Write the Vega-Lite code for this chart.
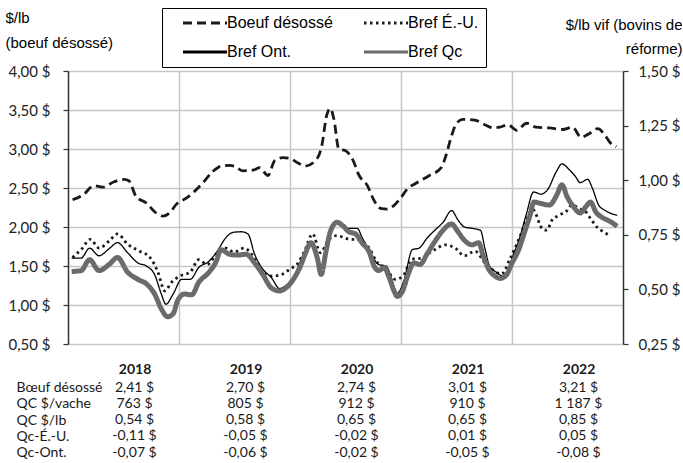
{
  "$schema": "https://vega.github.io/schema/vega-lite/v6.json",
  "background": "white",
  "padding": {"left": 5, "top": 7, "right": 0, "bottom": 0},
  "autosize": {"type": "pad"},
  "bounds": "flush",
  "spacing": 35.5,
  "config": {"view": {"stroke": null}},
  "datasets": {
    "series": [
      {"d":"2018-01-16","s":"Boeuf désossé","v":2.35},{"d":"2018-02-19","s":"Boeuf désossé","v":2.41},{"d":"2018-03-28","s":"Boeuf désossé","v":2.53},{"d":"2018-04-25","s":"Boeuf désossé","v":2.51},{"d":"2018-06-02","s":"Boeuf désossé","v":2.58},{"d":"2018-07-05","s":"Boeuf désossé","v":2.61},{"d":"2018-07-21","s":"Boeuf désossé","v":2.59},{"d":"2018-08-13","s":"Boeuf désossé","v":2.39},{"d":"2018-09-15","s":"Boeuf désossé","v":2.31},{"d":"2018-10-18","s":"Boeuf désossé","v":2.18},{"d":"2018-11-09","s":"Boeuf désossé","v":2.14},{"d":"2018-12-01","s":"Boeuf désossé","v":2.18},{"d":"2018-12-23","s":"Boeuf désossé","v":2.29},
      {"d":"2019-01-25","s":"Boeuf désossé","v":2.37},{"d":"2019-02-22","s":"Boeuf désossé","v":2.46},{"d":"2019-03-19","s":"Boeuf désossé","v":2.56},{"d":"2019-04-22","s":"Boeuf désossé","v":2.71},{"d":"2019-05-19","s":"Boeuf désossé","v":2.78},{"d":"2019-06-16","s":"Boeuf désossé","v":2.79},{"d":"2019-07-02","s":"Boeuf désossé","v":2.78},{"d":"2019-07-30","s":"Boeuf désossé","v":2.72},{"d":"2019-09-02","s":"Boeuf désossé","v":2.73},{"d":"2019-09-24","s":"Boeuf désossé","v":2.76},{"d":"2019-10-21","s":"Boeuf désossé","v":2.66},{"d":"2019-11-12","s":"Boeuf désossé","v":2.85},{"d":"2019-12-09","s":"Boeuf désossé","v":2.89},
      {"d":"2020-01-01","s":"Boeuf désossé","v":2.88},{"d":"2020-01-28","s":"Boeuf désossé","v":2.82},{"d":"2020-02-20","s":"Boeuf désossé","v":2.78},{"d":"2020-03-25","s":"Boeuf désossé","v":2.85},{"d":"2020-04-15","s":"Boeuf désossé","v":3.04},{"d":"2020-05-01","s":"Boeuf désossé","v":3.43},{"d":"2020-05-13","s":"Boeuf désossé","v":3.52},{"d":"2020-05-25","s":"Boeuf désossé","v":3.38},{"d":"2020-06-10","s":"Boeuf désossé","v":3.0},{"d":"2020-07-01","s":"Boeuf désossé","v":2.98},{"d":"2020-07-25","s":"Boeuf désossé","v":2.87},{"d":"2020-08-16","s":"Boeuf désossé","v":2.66},{"d":"2020-09-12","s":"Boeuf désossé","v":2.53},{"d":"2020-10-04","s":"Boeuf désossé","v":2.34},{"d":"2020-10-25","s":"Boeuf désossé","v":2.24},{"d":"2020-11-16","s":"Boeuf désossé","v":2.23},{"d":"2020-12-07","s":"Boeuf désossé","v":2.27},
      {"d":"2021-01-01","s":"Boeuf désossé","v":2.38},{"d":"2021-01-22","s":"Boeuf désossé","v":2.49},{"d":"2021-02-19","s":"Boeuf désossé","v":2.56},{"d":"2021-03-04","s":"Boeuf désossé","v":2.59},{"d":"2021-04-04","s":"Boeuf désossé","v":2.66},{"d":"2021-05-13","s":"Boeuf désossé","v":2.76},{"d":"2021-05-28","s":"Boeuf désossé","v":2.91},{"d":"2021-06-16","s":"Boeuf désossé","v":3.17},{"d":"2021-07-01","s":"Boeuf désossé","v":3.32},{"d":"2021-07-22","s":"Boeuf désossé","v":3.38},{"d":"2021-09-01","s":"Boeuf désossé","v":3.37},{"d":"2021-10-04","s":"Boeuf désossé","v":3.31},{"d":"2021-11-01","s":"Boeuf désossé","v":3.27},{"d":"2021-11-22","s":"Boeuf désossé","v":3.28},{"d":"2021-12-19","s":"Boeuf désossé","v":3.31},
      {"d":"2022-01-16","s":"Boeuf désossé","v":3.24},{"d":"2022-02-18","s":"Boeuf désossé","v":3.33},{"d":"2022-03-21","s":"Boeuf désossé","v":3.28},{"d":"2022-05-04","s":"Boeuf désossé","v":3.27},{"d":"2022-06-16","s":"Boeuf désossé","v":3.25},{"d":"2022-07-19","s":"Boeuf désossé","v":3.28},{"d":"2022-08-16","s":"Boeuf désossé","v":3.15},{"d":"2022-09-13","s":"Boeuf désossé","v":3.2},{"d":"2022-10-10","s":"Boeuf désossé","v":3.26},{"d":"2022-11-02","s":"Boeuf désossé","v":3.18},{"d":"2022-11-18","s":"Boeuf désossé","v":3.09},{"d":"2022-12-10","s":"Boeuf désossé","v":3.03},

      {"d":"2018-01-16","s":"Bref É.-U.","v":0.646},{"d":"2018-02-13","s":"Bref É.-U.","v":0.682},{"d":"2018-03-16","s":"Bref É.-U.","v":0.729},{"d":"2018-04-13","s":"Bref É.-U.","v":0.689},{"d":"2018-05-16","s":"Bref É.-U.","v":0.721},{"d":"2018-06-13","s":"Bref É.-U.","v":0.754},{"d":"2018-07-16","s":"Bref É.-U.","v":0.707},{"d":"2018-08-25","s":"Bref É.-U.","v":0.675},{"d":"2018-09-28","s":"Bref É.-U.","v":0.646},{"d":"2018-10-22","s":"Bref É.-U.","v":0.586},{"d":"2018-11-16","s":"Bref É.-U.","v":0.493},{"d":"2018-12-07","s":"Bref É.-U.","v":0.532},
      {"d":"2019-01-04","s":"Bref É.-U.","v":0.561},{"d":"2019-02-07","s":"Bref É.-U.","v":0.579},{"d":"2019-03-07","s":"Bref É.-U.","v":0.636},{"d":"2019-04-04","s":"Bref É.-U.","v":0.614},{"d":"2019-05-04","s":"Bref É.-U.","v":0.661},{"d":"2019-06-04","s":"Bref É.-U.","v":0.689},{"d":"2019-07-01","s":"Bref É.-U.","v":0.671},{"d":"2019-08-04","s":"Bref É.-U.","v":0.689},{"d":"2019-09-01","s":"Bref É.-U.","v":0.654},{"d":"2019-10-01","s":"Bref É.-U.","v":0.586},{"d":"2019-11-01","s":"Bref É.-U.","v":0.561},{"d":"2019-12-04","s":"Bref É.-U.","v":0.568},
      {"d":"2020-01-01","s":"Bref É.-U.","v":0.593},{"d":"2020-01-28","s":"Bref É.-U.","v":0.621},{"d":"2020-02-18","s":"Bref É.-U.","v":0.675},{"d":"2020-03-16","s":"Bref É.-U.","v":0.754},{"d":"2020-04-10","s":"Bref É.-U.","v":0.668},{"d":"2020-05-07","s":"Bref É.-U.","v":0.725},{"d":"2020-05-22","s":"Bref É.-U.","v":0.743},{"d":"2020-06-04","s":"Bref É.-U.","v":0.746},{"d":"2020-07-07","s":"Bref É.-U.","v":0.732},{"d":"2020-08-16","s":"Bref É.-U.","v":0.725},{"d":"2020-09-19","s":"Bref É.-U.","v":0.686},{"d":"2020-10-10","s":"Bref É.-U.","v":0.632},{"d":"2020-11-13","s":"Bref É.-U.","v":0.593},{"d":"2020-12-13","s":"Bref É.-U.","v":0.546},
      {"d":"2021-01-07","s":"Bref É.-U.","v":0.561},{"d":"2021-02-07","s":"Bref É.-U.","v":0.639},{"d":"2021-03-13","s":"Bref É.-U.","v":0.643},{"d":"2021-03-28","s":"Bref É.-U.","v":0.66},{"d":"2021-04-22","s":"Bref É.-U.","v":0.682},{"d":"2021-05-25","s":"Bref É.-U.","v":0.704},{"d":"2021-06-28","s":"Bref É.-U.","v":0.689},{"d":"2021-07-28","s":"Bref É.-U.","v":0.654},{"d":"2021-09-01","s":"Bref É.-U.","v":0.675},{"d":"2021-10-04","s":"Bref É.-U.","v":0.621},{"d":"2021-11-01","s":"Bref É.-U.","v":0.586},{"d":"2021-11-28","s":"Bref É.-U.","v":0.571},{"d":"2021-12-25","s":"Bref É.-U.","v":0.639},
      {"d":"2022-01-28","s":"Bref É.-U.","v":0.746},{"d":"2022-02-19","s":"Bref É.-U.","v":0.825},{"d":"2022-03-10","s":"Bref É.-U.","v":0.866},{"d":"2022-04-10","s":"Bref É.-U.","v":0.779},{"d":"2022-04-25","s":"Bref É.-U.","v":0.771},{"d":"2022-05-13","s":"Bref É.-U.","v":0.818},{"d":"2022-06-04","s":"Bref É.-U.","v":0.839},{"d":"2022-07-01","s":"Bref É.-U.","v":0.861},{"d":"2022-07-16","s":"Bref É.-U.","v":0.886},{"d":"2022-08-13","s":"Bref É.-U.","v":0.868},{"d":"2022-09-01","s":"Bref É.-U.","v":0.854},{"d":"2022-09-16","s":"Bref É.-U.","v":0.825},{"d":"2022-10-07","s":"Bref É.-U.","v":0.786},{"d":"2022-10-28","s":"Bref É.-U.","v":0.764},{"d":"2022-11-19","s":"Bref É.-U.","v":0.746},

      {"d":"2018-01-13","s":"Bref Ont.","v":0.643},{"d":"2018-02-13","s":"Bref Ont.","v":0.643},{"d":"2018-03-13","s":"Bref Ont.","v":0.689},{"d":"2018-04-13","s":"Bref Ont.","v":0.654},{"d":"2018-05-16","s":"Bref Ont.","v":0.686},{"d":"2018-06-13","s":"Bref Ont.","v":0.714},{"d":"2018-07-16","s":"Bref Ont.","v":0.668},{"d":"2018-08-19","s":"Bref Ont.","v":0.621},{"d":"2018-09-16","s":"Bref Ont.","v":0.607},{"d":"2018-10-13","s":"Bref Ont.","v":0.568},{"d":"2018-11-04","s":"Bref Ont.","v":0.479},{"d":"2018-11-19","s":"Bref Ont.","v":0.432},{"d":"2018-12-13","s":"Bref Ont.","v":0.479},
      {"d":"2019-01-10","s":"Bref Ont.","v":0.546},{"d":"2019-02-07","s":"Bref Ont.","v":0.546},{"d":"2019-03-07","s":"Bref Ont.","v":0.6},{"d":"2019-04-10","s":"Bref Ont.","v":0.629},{"d":"2019-05-07","s":"Bref Ont.","v":0.675},{"d":"2019-06-04","s":"Bref Ont.","v":0.736},{"d":"2019-06-28","s":"Bref Ont.","v":0.761},{"d":"2019-07-25","s":"Bref Ont.","v":0.764},{"d":"2019-08-16","s":"Bref Ont.","v":0.754},{"d":"2019-09-07","s":"Bref Ont.","v":0.661},{"d":"2019-10-04","s":"Bref Ont.","v":0.593},{"d":"2019-11-01","s":"Bref Ont.","v":0.554},{"d":"2019-11-28","s":"Bref Ont.","v":0.504},{"d":"2019-12-19","s":"Bref Ont.","v":0.518},
      {"d":"2020-01-16","s":"Bref Ont.","v":0.564},{"d":"2020-02-05","s":"Bref Ont.","v":0.629},{"d":"2020-02-22","s":"Bref Ont.","v":0.679},{"d":"2020-03-10","s":"Bref Ont.","v":0.714},{"d":"2020-04-01","s":"Bref Ont.","v":0.643},{"d":"2020-04-13","s":"Bref Ont.","v":0.607},{"d":"2020-04-28","s":"Bref Ont.","v":0.679},{"d":"2020-05-13","s":"Bref Ont.","v":0.771},{"d":"2020-06-04","s":"Bref Ont.","v":0.807},{"d":"2020-07-13","s":"Bref Ont.","v":0.779},{"d":"2020-08-10","s":"Bref Ont.","v":0.779},{"d":"2020-08-25","s":"Bref Ont.","v":0.739},{"d":"2020-09-22","s":"Bref Ont.","v":0.668},{"d":"2020-10-19","s":"Bref Ont.","v":0.614},{"d":"2020-11-13","s":"Bref Ont.","v":0.607},{"d":"2020-11-28","s":"Bref Ont.","v":0.561},{"d":"2020-12-19","s":"Bref Ont.","v":0.482},
      {"d":"2021-01-10","s":"Bref Ont.","v":0.539},{"d":"2021-02-07","s":"Bref Ont.","v":0.682},{"d":"2021-03-01","s":"Bref Ont.","v":0.689},{"d":"2021-03-28","s":"Bref Ont.","v":0.736},{"d":"2021-04-28","s":"Bref Ont.","v":0.779},{"d":"2021-05-19","s":"Bref Ont.","v":0.807},{"d":"2021-06-16","s":"Bref Ont.","v":0.861},{"d":"2021-07-07","s":"Bref Ont.","v":0.818},{"d":"2021-07-28","s":"Bref Ont.","v":0.786},{"d":"2021-08-25","s":"Bref Ont.","v":0.779},{"d":"2021-09-19","s":"Bref Ont.","v":0.771},{"d":"2021-10-04","s":"Bref Ont.","v":0.686},{"d":"2021-10-19","s":"Bref Ont.","v":0.607},{"d":"2021-11-10","s":"Bref Ont.","v":0.579},{"d":"2021-12-04","s":"Bref Ont.","v":0.56},{"d":"2021-12-19","s":"Bref Ont.","v":0.593},
      {"d":"2022-01-04","s":"Bref Ont.","v":0.654},{"d":"2022-01-25","s":"Bref Ont.","v":0.732},{"d":"2022-02-16","s":"Bref Ont.","v":0.839},{"d":"2022-03-13","s":"Bref Ont.","v":0.946},{"d":"2022-04-07","s":"Bref Ont.","v":0.936},{"d":"2022-04-28","s":"Bref Ont.","v":0.957},{"d":"2022-05-28","s":"Bref Ont.","v":1.043},{"d":"2022-06-14","s":"Bref Ont.","v":1.075},{"d":"2022-07-07","s":"Bref Ont.","v":1.05},{"d":"2022-07-28","s":"Bref Ont.","v":1.018},{"d":"2022-08-13","s":"Bref Ont.","v":0.989},{"d":"2022-09-07","s":"Bref Ont.","v":1.004},{"d":"2022-09-22","s":"Bref Ont.","v":0.964},{"d":"2022-10-13","s":"Bref Ont.","v":0.886},{"d":"2022-11-04","s":"Bref Ont.","v":0.861},{"d":"2022-12-13","s":"Bref Ont.","v":0.839},

      {"d":"2018-01-13","s":"Bref Qc","v":0.582},{"d":"2018-02-13","s":"Bref Qc","v":0.586},{"d":"2018-03-13","s":"Bref Qc","v":0.636},{"d":"2018-04-13","s":"Bref Qc","v":0.586},{"d":"2018-05-16","s":"Bref Qc","v":0.614},{"d":"2018-06-13","s":"Bref Qc","v":0.646},{"d":"2018-07-16","s":"Bref Qc","v":0.579},{"d":"2018-08-19","s":"Bref Qc","v":0.546},{"d":"2018-09-16","s":"Bref Qc","v":0.525},{"d":"2018-10-13","s":"Bref Qc","v":0.479},{"d":"2018-11-04","s":"Bref Qc","v":0.411},{"d":"2018-11-25","s":"Bref Qc","v":0.375},{"d":"2018-12-13","s":"Bref Qc","v":0.389},{"d":"2018-12-28","s":"Bref Qc","v":0.45},
      {"d":"2019-01-19","s":"Bref Qc","v":0.479},{"d":"2019-02-12","s":"Bref Qc","v":0.475},{"d":"2019-03-07","s":"Bref Qc","v":0.532},{"d":"2019-04-10","s":"Bref Qc","v":0.579},{"d":"2019-05-04","s":"Bref Qc","v":0.629},{"d":"2019-05-19","s":"Bref Qc","v":0.682},{"d":"2019-06-16","s":"Bref Qc","v":0.661},{"d":"2019-07-13","s":"Bref Qc","v":0.657},{"d":"2019-08-10","s":"Bref Qc","v":0.661},{"d":"2019-09-07","s":"Bref Qc","v":0.621},{"d":"2019-10-04","s":"Bref Qc","v":0.568},{"d":"2019-11-01","s":"Bref Qc","v":0.507},{"d":"2019-11-28","s":"Bref Qc","v":0.493},{"d":"2019-12-19","s":"Bref Qc","v":0.507},
      {"d":"2020-01-16","s":"Bref Qc","v":0.554},{"d":"2020-02-05","s":"Bref Qc","v":0.607},{"d":"2020-02-22","s":"Bref Qc","v":0.668},{"d":"2020-03-10","s":"Bref Qc","v":0.714},{"d":"2020-04-01","s":"Bref Qc","v":0.639},{"d":"2020-04-13","s":"Bref Qc","v":0.568},{"d":"2020-04-28","s":"Bref Qc","v":0.668},{"d":"2020-05-13","s":"Bref Qc","v":0.764},{"d":"2020-06-04","s":"Bref Qc","v":0.807},{"d":"2020-06-22","s":"Bref Qc","v":0.793},{"d":"2020-07-13","s":"Bref Qc","v":0.764},{"d":"2020-08-04","s":"Bref Qc","v":0.754},{"d":"2020-08-25","s":"Bref Qc","v":0.714},{"d":"2020-09-19","s":"Bref Qc","v":0.668},{"d":"2020-10-04","s":"Bref Qc","v":0.607},{"d":"2020-10-19","s":"Bref Qc","v":0.586},{"d":"2020-11-07","s":"Bref Qc","v":0.6},{"d":"2020-11-22","s":"Bref Qc","v":0.557},{"d":"2020-12-10","s":"Bref Qc","v":0.489},{"d":"2020-12-19","s":"Bref Qc","v":0.468},
      {"d":"2021-01-07","s":"Bref Qc","v":0.496},{"d":"2021-01-22","s":"Bref Qc","v":0.561},{"d":"2021-02-13","s":"Bref Qc","v":0.621},{"d":"2021-03-04","s":"Bref Qc","v":0.614},{"d":"2021-03-28","s":"Bref Qc","v":0.664},{"d":"2021-04-28","s":"Bref Qc","v":0.732},{"d":"2021-05-19","s":"Bref Qc","v":0.771},{"d":"2021-06-16","s":"Bref Qc","v":0.8},{"d":"2021-07-07","s":"Bref Qc","v":0.764},{"d":"2021-07-28","s":"Bref Qc","v":0.725},{"d":"2021-08-22","s":"Bref Qc","v":0.704},{"d":"2021-09-13","s":"Bref Qc","v":0.714},{"d":"2021-09-28","s":"Bref Qc","v":0.654},{"d":"2021-10-16","s":"Bref Qc","v":0.593},{"d":"2021-11-07","s":"Bref Qc","v":0.56},{"d":"2021-11-22","s":"Bref Qc","v":0.55},{"d":"2021-12-13","s":"Bref Qc","v":0.565},
      {"d":"2022-01-01","s":"Bref Qc","v":0.621},{"d":"2022-01-22","s":"Bref Qc","v":0.679},{"d":"2022-02-10","s":"Bref Qc","v":0.757},{"d":"2022-03-01","s":"Bref Qc","v":0.839},{"d":"2022-03-14","s":"Bref Qc","v":0.9},{"d":"2022-04-07","s":"Bref Qc","v":0.893},{"d":"2022-05-04","s":"Bref Qc","v":0.886},{"d":"2022-05-28","s":"Bref Qc","v":0.932},{"d":"2022-06-14","s":"Bref Qc","v":0.979},{"d":"2022-07-01","s":"Bref Qc","v":0.925},{"d":"2022-07-22","s":"Bref Qc","v":0.879},{"d":"2022-08-13","s":"Bref Qc","v":0.85},{"d":"2022-09-01","s":"Bref Qc","v":0.879},{"d":"2022-09-16","s":"Bref Qc","v":0.9},{"d":"2022-10-04","s":"Bref Qc","v":0.854},{"d":"2022-10-25","s":"Bref Qc","v":0.829},{"d":"2022-11-16","s":"Bref Qc","v":0.814},{"d":"2022-12-13","s":"Bref Qc","v":0.789}
    ],
    "tableau": [
      {"annee":"2018","ligne":"Bœuf désossé","valeur":"2,41 $"},{"annee":"2019","ligne":"Bœuf désossé","valeur":"2,70 $"},{"annee":"2020","ligne":"Bœuf désossé","valeur":"2,74 $"},{"annee":"2021","ligne":"Bœuf désossé","valeur":"3,01 $"},{"annee":"2022","ligne":"Bœuf désossé","valeur":"3,21 $"},
      {"annee":"2018","ligne":"QC $/vache","valeur":"763 $"},{"annee":"2019","ligne":"QC $/vache","valeur":"805 $"},{"annee":"2020","ligne":"QC $/vache","valeur":"912 $"},{"annee":"2021","ligne":"QC $/vache","valeur":"910 $"},{"annee":"2022","ligne":"QC $/vache","valeur":"1 187 $"},
      {"annee":"2018","ligne":"QC $/lb","valeur":"0,54 $"},{"annee":"2019","ligne":"QC $/lb","valeur":"0,58 $"},{"annee":"2020","ligne":"QC $/lb","valeur":"0,65 $"},{"annee":"2021","ligne":"QC $/lb","valeur":"0,65 $"},{"annee":"2022","ligne":"QC $/lb","valeur":"0,85 $"},
      {"annee":"2018","ligne":"Qc-É.-U.","valeur":"-0,11 $"},{"annee":"2019","ligne":"Qc-É.-U.","valeur":"-0,05 $"},{"annee":"2020","ligne":"Qc-É.-U.","valeur":"-0,02 $"},{"annee":"2021","ligne":"Qc-É.-U.","valeur":"0,01 $"},{"annee":"2022","ligne":"Qc-É.-U.","valeur":"0,05 $"},
      {"annee":"2018","ligne":"Qc-Ont.","valeur":"-0,07 $"},{"annee":"2019","ligne":"Qc-Ont.","valeur":"-0,06 $"},{"annee":"2020","ligne":"Qc-Ont.","valeur":"-0,02 $"},{"annee":"2021","ligne":"Qc-Ont.","valeur":"-0,05 $"},{"annee":"2022","ligne":"Qc-Ont.","valeur":"-0,08 $"}
    ]
  },
  "vconcat": [
    {
      "data": {"name": "series"},
      "width": 555,
      "height": 273,
      "encoding": {
        "x": {
          "field": "d", "type": "temporal", "title": null,
          "scale": {"domain": [{"year": 2018, "month": 1, "date": 1}, {"year": 2023, "month": 1, "date": 1}]},
          "axis": {
            "values": [{"year": 2019, "month": 1, "date": 1}, {"year": 2020, "month": 1, "date": 1}, {"year": 2021, "month": 1, "date": 1}, {"year": 2022, "month": 1, "date": 1}],
            "grid": true, "gridColor": "#c6c6c6", "gridWidth": 1.5,
            "labels": false, "ticks": false, "domain": false
          }
        },
        "color": {
          "field": "s", "type": "nominal",
          "scale": {"domain": ["Boeuf désossé", "Bref É.-U.", "Bref Ont.", "Bref Qc"], "range": ["#1a1a1a", "#1a1a1a", "#000000", "#6b6b6b"]},
          "legend": {
            "title": null, "orient": "none", "legendX": 94, "legendY": -63,
            "direction": "horizontal", "columns": 2, "gridAlign": "each",
            "columnPadding": 17, "rowPadding": 13, "padding": 7,
            "strokeColor": "#000000",
            "symbolType": "M1.2,0H10", "symbolSize": 100, "symbolStrokeWidth": 2.8,
            "labelFont": "Liberation Sans", "labelFontSize": 16, "labelColor": "#000000", "labelOffset": 42, "labelLimit": 300,
            "labelExpr": "length(datum.label) == 10 ? datum.label + '\u2007\u2007\u2007\u2007\u2007' : datum.label"
          }
        },
        "strokeDash": {
          "field": "s", "type": "nominal",
          "scale": {"domain": ["Boeuf désossé", "Bref É.-U.", "Bref Ont.", "Bref Qc"], "range": [[9, 5], [2.5, 3.5], [1, 0], [1, 0]]},
          "legend": {"title": null}
        }
      },
      "layer": [
        {
          "transform": [{"filter": "datum.s === 'Boeuf désossé'"}],
          "mark": {"type": "line", "interpolate": "monotone", "strokeWidth": 2.8},
          "encoding": {
            "y": {
              "field": "v", "type": "quantitative",
              "scale": {"domain": [0.5, 4], "nice": false, "zero": false},
              "axis": {
                "orient": "left",
                "values": [0.5, 1, 1.5, 2, 2.5, 3, 3.5, 4],
                "labelExpr": "replace(format(datum.value, '.2f'), '.', ',') + ' $'",
                "grid": true, "gridColor": "#c6c6c6", "gridWidth": 1.5,
                "domainColor": "#333333", "domainWidth": 1.5, "tickColor": "#333333", "tickSize": 5, "tickWidth": 1.2,
                "labelFont": "Lato", "labelFontSize": 15, "labelColor": "#222222", "labelPadding": 13,
                "title": ["$/lb", "(boeuf désossé)"], "titleAngle": 0, "titleAlign": "left", "titleBaseline": "top",
                "titleX": -63, "titleY": -60.5, "titleLineHeight": 25,
                "titleFont": "Liberation Sans", "titleFontSize": 15, "titleFontWeight": "normal", "titleColor": "#000000"
              }
            }
          }
        },
        {
          "encoding": {
            "y": {
              "field": "v", "type": "quantitative",
              "scale": {"domain": [0.25, 1.5], "nice": false, "zero": false},
              "axis": {
                "orient": "right",
                "values": [0.25, 0.5, 0.75, 1, 1.25, 1.5],
                "labelExpr": "replace(format(datum.value, '.2f'), '.', ',') + ' $'",
                "grid": false,
                "domainColor": "#333333", "domainWidth": 1.5, "tickColor": "#333333", "tickSize": 5, "tickWidth": 1.2,
                "labelFont": "Lato", "labelFontSize": 15, "labelColor": "#222222", "labelPadding": 10,
                "title": ["$/lb vif (bovins de", "réforme)"], "titleAngle": 0, "titleAlign": "right", "titleBaseline": "top",
                "titleX": 59, "titleY": -53.5, "titleLineHeight": 24,
                "titleFont": "Liberation Sans", "titleFontSize": 15, "titleFontWeight": "normal", "titleColor": "#000000"
              }
            }
          },
          "layer": [
            {"transform": [{"filter": "datum.s === 'Bref É.-U.'"}], "mark": {"type": "line", "interpolate": "monotone", "strokeWidth": 2.8}},
            {"transform": [{"filter": "datum.s === 'Bref Ont.'"}], "mark": {"type": "line", "interpolate": "monotone", "strokeWidth": 1.3}},
            {"transform": [{"filter": "datum.s === 'Bref Qc'"}], "mark": {"type": "line", "interpolate": "monotone", "strokeWidth": 5}}
          ]
        }
      ],
      "resolve": {"scale": {"y": "independent"}}
    },
    {
      "data": {"name": "tableau"},
      "width": 555,
      "height": 81.25,
      "mark": {"type": "text", "font": "Lato", "fontSize": 14, "dx": 11, "color": "#1a1a1a"},
      "encoding": {
        "x": {
          "field": "annee", "type": "ordinal", "title": null,
          "scale": {"paddingInner": 0, "paddingOuter": 0},
          "axis": {"orient": "top", "domain": false, "ticks": false, "grid": false, "labelAngle": 0, "labelFont": "Lato", "labelFontSize": 14, "labelFontWeight": "bold", "labelColor": "#1a1a1a", "labelOffset": 11, "labelPadding": 3}
        },
        "y": {
          "field": "ligne", "type": "ordinal", "title": null,
          "sort": ["Bœuf désossé", "QC $/vache", "QC $/lb", "Qc-É.-U.", "Qc-Ont."],
          "scale": {"paddingInner": 0, "paddingOuter": 0},
          "axis": {"domain": false, "ticks": false, "grid": false, "labelAlign": "left", "labelPadding": 52, "labelFont": "Lato", "labelFontSize": 14, "labelColor": "#1a1a1a", "labelLimit": 200}
        },
        "text": {"field": "valeur"}
      }
    }
  ]
}
